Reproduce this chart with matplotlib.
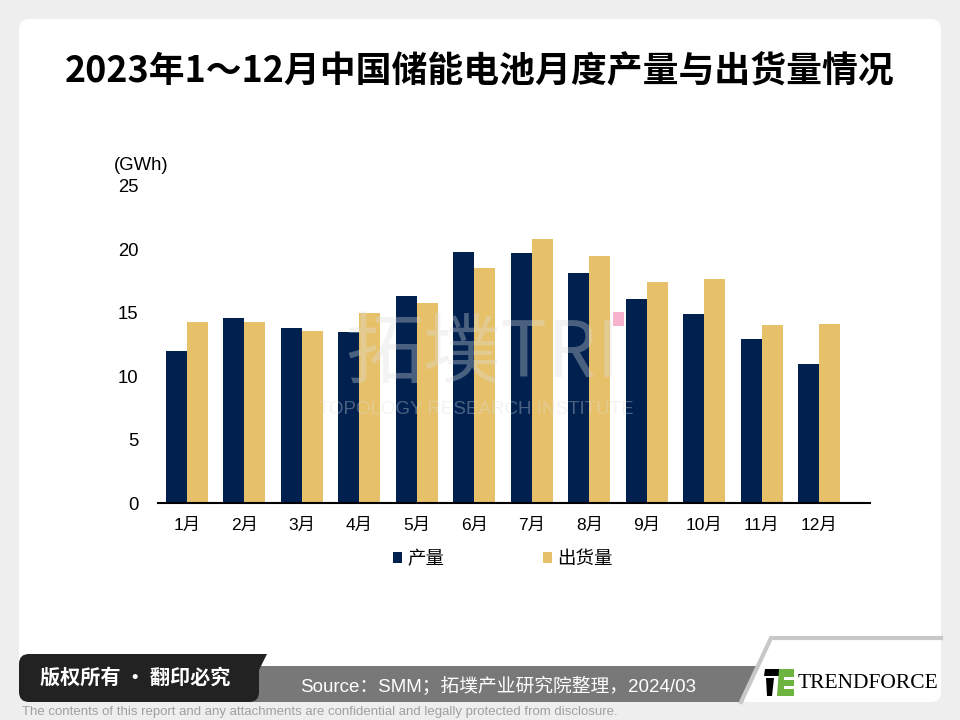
import matplotlib
matplotlib.use("Agg")
import matplotlib.pyplot as plt
from matplotlib.patches import FancyBboxPatch, Polygon, Rectangle
import numpy as np

plt.rcParams['font.family'] = ['Liberation Sans', 'Noto Sans CJK SC', 'DejaVu Sans']

# ---- data ----
months = ['1月', '2月', '3月', '4月', '5月', '6月', '7月', '8月', '9月', '10月', '11月', '12月']
production = [12.0, 14.6, 13.8, 13.5, 16.3, 19.8, 19.7, 18.1, 16.1, 14.9, 12.9, 11.0]
shipment = [14.3, 14.3, 13.6, 15.0, 15.8, 18.5, 20.8, 19.5, 17.4, 17.7, 14.0, 14.1]
yticks = [0, 5, 10, 15, 20, 25]
series_names = ['产量', '出货量']
title = '2023年1～12月中国储能电池月度产量与出货量情况'
unit = '(GWh)'
source = 'Source：SMM；拓墣产业研究院整理，2024/03'
copyright_txt = '版权所有 · 翻印必究'
disclaimer = 'The contents of this report and any attachments are confidential and legally protected from disclosure.'

NAVY = '#002050'
GOLD = '#E6C16A'

fig = plt.figure(figsize=(9.6, 7.2), dpi=100)
fig.patch.set_facecolor('#eeeeee')

# background / decoration layer in pixel coordinates
bg = fig.add_axes([0, 0, 1, 1], zorder=0)
bg.set_xlim(0, 960)
bg.set_ylim(720, 0)
bg.axis('off')

card = FancyBboxPatch((19, 19), 922, 683, boxstyle='round,pad=0,rounding_size=10',
                      facecolor='white', edgecolor='none')
bg.add_patch(card)

# title
bg.text(480, 72, title, ha='center', va='center', fontsize=25.8, fontweight='bold',
        color='black', family=['Noto Sans CJK SC', 'DejaVu Sans'])

# unit label
bg.text(114, 165, unit, ha='left', va='center', fontsize=13.3, color='black')

# footer: logo area outline (top and slanted left edges)
bg.plot([741, 771, 941], [702, 638, 638], color='#c8c8c8', linewidth=3,
        solid_joinstyle='miter')
# gray source band
gray_band = Polygon([(258, 666), (758, 666), (743, 702), (243, 702)], closed=True,
                    facecolor='#787878', edgecolor='none')
bg.add_patch(gray_band)
# dark copyright band
dark_band = FancyBboxPatch((19, 654), 240, 48, boxstyle='round,pad=0,rounding_size=10',
                           facecolor='#222222', edgecolor='none')
bg.add_patch(dark_band)
bg.add_patch(Polygon([(230, 654), (267, 654), (243, 702), (230, 702)], closed=True,
                     facecolor='#222222', edgecolor='none'))
bg.add_patch(Rectangle((200, 654), 40, 48, facecolor='#222222', edgecolor='none'))
bg.text(135, 677, copyright_txt, ha='center', va='center', fontsize=14.5,
        color='white', fontweight='bold', family=['Noto Sans CJK SC', 'DejaVu Sans'])
bg.text(498, 686, source, ha='center', va='center', fontsize=13.5, color='white',
        family=['Liberation Sans', 'Noto Sans CJK SC', 'DejaVu Sans'])

# TrendForce logo
bg.add_patch(Polygon([(765, 669), (789, 669), (787, 676), (764, 676)], closed=True,
                     facecolor='black', edgecolor='none'))
bg.add_patch(Polygon([(766, 678), (774, 678), (772, 696), (767, 696)], closed=True,
                     facecolor='black', edgecolor='none'))
bg.add_patch(Polygon([(779, 669), (794, 669), (794, 696), (777, 696)], closed=True,
                     facecolor='#6db33f', edgecolor='none'))
bg.add_patch(Rectangle((784, 677), 10, 3, facecolor='white', edgecolor='none'))
bg.add_patch(Rectangle((784, 686), 10, 3, facecolor='white', edgecolor='none'))
bg.text(798, 684, 'TRENDFORCE', ha='left', va='center', fontsize=15.5,
        family=['Liberation Serif', 'DejaVu Serif'], color='black')

# disclaimer
bg.text(22, 712, disclaimer, ha='left', va='center', fontsize=9.5, color='#a0a0a0',
        family=['Liberation Sans Narrow', 'Liberation Sans', 'DejaVu Sans'])

# ---- chart ----
L, R, B, T = 158, 870, 503, 186
ax = fig.add_axes([L / 960, 1 - B / 720, (R - L) / 960, (B - T) / 720], zorder=1)
ax.patch.set_visible(False)
x = np.arange(len(months))
w = 0.366
ax.bar(x - w / 2, production, width=w, color=NAVY, label=series_names[0])
ax.bar(x + w / 2, shipment, width=w, color=GOLD, label=series_names[1])
ax.set_xlim(-0.5, 11.88)
ax.set_ylim(0, 25)
ax.set_yticks(yticks)
ax.set_yticklabels([str(v) for v in yticks])
ax.set_xticks(x)
ax.set_xticklabels(months)
for s in ['top', 'right', 'left']:
    ax.spines[s].set_visible(False)
ax.spines['bottom'].set_color('black')
ax.spines['bottom'].set_linewidth(1.5)
ax.tick_params(axis='both', length=0, colors='black')
ax.tick_params(axis='y', pad=14, labelsize=13.3)
ax.tick_params(axis='x', pad=11, labelsize=12.5)

leg = ax.legend(loc='center', bbox_to_anchor=(503 / 960, 1 - 559 / 720),
                bbox_transform=fig.transFigure, ncol=2, frameon=False,
                handlelength=0.5, handleheight=0.5,
                handletextpad=0.3, columnspacing=5.3,
                prop={'family': ['Noto Sans CJK SC', 'DejaVu Sans'], 'size': 13.3})

# watermark overlay
ov = fig.add_axes([0, 0, 1, 1], zorder=3)
ov.set_xlim(0, 960)
ov.set_ylim(720, 0)
ov.axis('off')
ov.text(482, 377, '拓墣TRI', ha='center', va='baseline', fontsize=56,
        color='#dcdcdc', alpha=0.34, family=['Noto Sans CJK SC', 'DejaVu Sans'])
ov.text(476, 409, 'TOPOLOGY RESEARCH INSTITUTE', ha='center', va='center',
        fontsize=13.5, color='#dcdcdc', alpha=0.34,
        family=['Liberation Sans Narrow', 'Liberation Sans'])
ov.add_patch(Rectangle((613, 312), 11, 14, facecolor='#f4a0bf', alpha=0.8,
                       edgecolor='none'))

fig.savefig('out.png', dpi=100)
